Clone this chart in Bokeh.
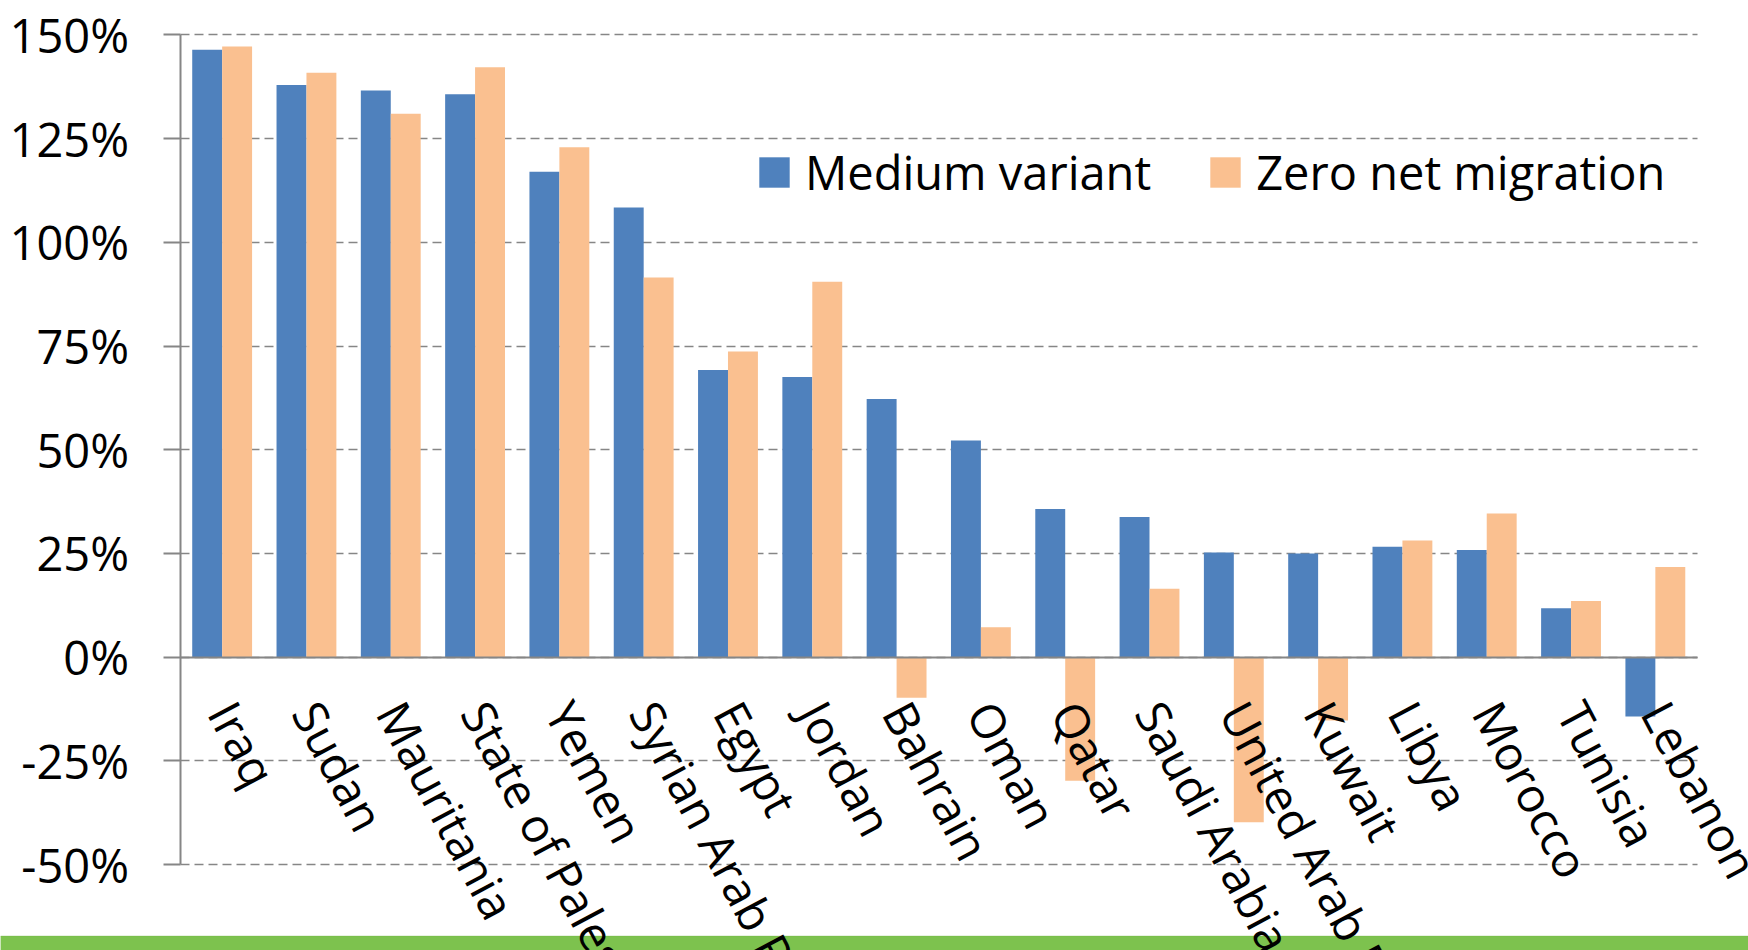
import math
from bokeh.plotting import figure
from bokeh.models import (Range1d, FixedTicker, PrintfTickFormatter, Grid,
                          Legend, LegendItem, BoxAnnotation, ColumnDataSource)
from bokeh.core.properties import value
from bokeh.transform import dodge
from bokeh.embed import file_html
from bokeh.resources import INLINE

countries = ["Iraq", "Sudan", "Mauritania", "State of Palestine", "Yemen",
             "Syrian Arab Republic", "Egypt", "Jordan", "Bahrain", "Oman", "Qatar",
             "Saudi Arabia", "United Arab Emirates", "Kuwait", "Libya", "Morocco",
             "Tunisia", "Lebanon"]
medium_variant = [146.4, 137.9, 136.6, 135.7, 117.0, 108.4, 69.2, 67.5, 62.2, 52.2,
                  35.7, 33.8, 25.2, 25.0, 26.6, 25.8, 11.8, -14.3]
zero_net_migration = [147.2, 140.9, 131.0, 142.2, 122.9, 91.5, 73.7, 90.5, -9.8, 7.2,
                      -29.8, 16.5, -39.8, -15.3, 28.1, 34.6, 13.5, 21.7]
y_ticks = [-50, -25, 0, 25, 50, 75, 100, 125, 150]
series_names = ["Medium variant", "Zero net migration"]

FONT = "Open Sans"
FS = "47px"
GRAY = "#868686"
GREEN = "#7dc24e"

# layout (canvas pixels)
W, H = 1748, 950
FX0, FX1 = 179.5, 1697.0       # left/right edge of the category span
FY_TOP, FY_BOT = 34.4, 864.0   # pixel rows of 150% and -50%
BAND_TOP = 935.5
Y_MIN, Y_MAX = y_ticks[0], y_ticks[-1]

n = len(countries)
idx = list(range(n))
ppx = (FX1 - FX0) / n
x_start = -0.5 - FX0 / ppx
x_end = n - 0.5 + (W - FX1) / ppx
ppy = (FY_BOT - FY_TOP) / (Y_MAX - Y_MIN)
y_end = Y_MAX + FY_TOP / ppy
y_start = Y_MIN - (H - FY_BOT) / ppy

src = ColumnDataSource(dict(idx=idx, country=countries,
                            mv=medium_variant, zm=zero_net_migration))

p = figure(x_range=Range1d(x_start, x_end), y_range=Range1d(y_start, y_end),
           width=W, height=H, output_backend="svg", toolbar_location=None,
           min_border=0)
p.outline_line_color = None
p.background_fill_color = "white"
p.border_fill_color = "white"

# green band at the bottom of the page
band = BoxAnnotation(top=Y_MIN - (BAND_TOP - FY_BOT) / ppy,
                     fill_color=GREEN, fill_alpha=1, line_color="#6aae3f",
                     line_width=1, level="underlay")
p.add_layout(band)

bar_w = 0.355
r1 = p.vbar(x=dodge("idx", -bar_w / 2), top="mv", bottom=0,
            width=bar_w, source=src, fill_color="#4f81bd", line_color=None)
r2 = p.vbar(x=dodge("idx", bar_w / 2), top="zm", bottom=0,
            width=bar_w, source=src, fill_color="#fac090", line_color=None)

# y axis
p.yaxis.fixed_location = -0.5
p.yaxis.bounds = (Y_MIN, Y_MAX)
p.yaxis.ticker = FixedTicker(ticks=y_ticks)
p.yaxis.formatter = PrintfTickFormatter(format="%d%%")
p.yaxis.major_label_text_font = FONT
p.yaxis.major_label_text_font_size = FS
p.yaxis.major_label_text_color = "black"
p.yaxis.major_tick_out = 17
p.yaxis.major_tick_in = 0
p.yaxis.minor_tick_out = 0
p.yaxis.minor_tick_in = 0
p.yaxis.axis_line_color = GRAY
p.yaxis.axis_line_width = 2
p.yaxis.major_tick_line_color = GRAY
p.yaxis.major_tick_line_width = 2
p.yaxis.major_label_standoff = 34

p.ygrid.ticker = FixedTicker(ticks=y_ticks)
p.ygrid.grid_line_color = GRAY
p.ygrid.grid_line_dash = "9 5"
p.ygrid.grid_line_width = 1.5
if "cross_bounds" in Grid.properties():
    p.ygrid.cross_bounds = (-0.5, n - 0.5)
p.xgrid.visible = False

# x axis line at zero; category names drawn as rotated text under each category
p.xaxis.fixed_location = 0
p.xaxis.bounds = (-0.5, n - 0.5)
p.xaxis.ticker = FixedTicker(ticks=[])
p.xaxis.major_tick_out = 0
p.xaxis.major_tick_in = 0
p.xaxis.minor_tick_out = 0
p.xaxis.minor_tick_in = 0
p.xaxis.axis_line_color = GRAY
p.xaxis.axis_line_width = 2

p.text(x="idx", y=0, text="country", source=src,
       angle=-62 * math.pi / 180, text_align="left", text_baseline="middle",
       y_offset=48, text_font=value(FONT), text_font_size=value(FS),
       text_color="black")

legend = Legend(items=[LegendItem(label=series_names[0], renderers=[r1]),
                       LegendItem(label=series_names[1], renderers=[r2])],
                orientation="horizontal", location=(755, 746),
                glyph_width=38, glyph_height=38, label_standoff=12, spacing=55,
                label_text_font=FONT, label_text_font_size=FS,
                label_text_color="black", padding=0, margin=0,
                background_fill_alpha=0, border_line_alpha=0)
p.add_layout(legend)

open("out.html", "w").write(file_html(p, INLINE))
